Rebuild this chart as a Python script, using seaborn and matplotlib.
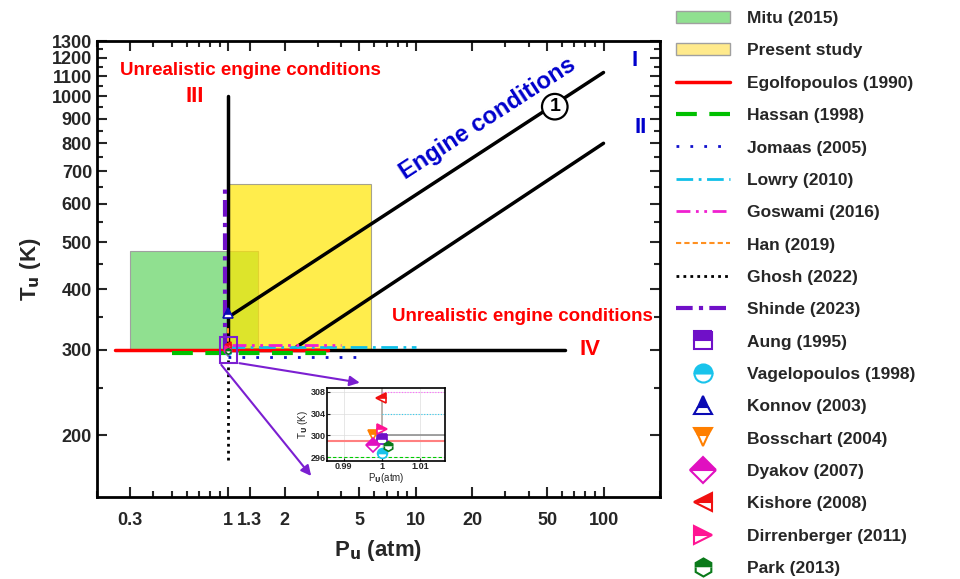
import matplotlib
matplotlib.use("Agg")
import matplotlib.pyplot as plt
import numpy as np
import seaborn as sns
from matplotlib.lines import Line2D
from matplotlib.patches import Patch, Rectangle
from matplotlib.ticker import FixedLocator, LogLocator, NullFormatter

sns.set_theme(style="ticks")
plt.rcParams["font.family"] = ["Liberation Sans", "DejaVu Sans"]
plt.rcParams["font.weight"] = "bold"
plt.rcParams["mathtext.default"] = "bf"

# shaded ranges (P in atm, T in K)
mitu_p = [0.3, 1.45]
mitu_t = [300, 480]
present_p = [1.0, 5.8]
present_t = [300, 660]

# regime boundary lines
line1_p = [1.0, 100.0]
line1_t = [350, 1120]
line2_p = [2.2, 100.0]
line2_t = [300, 800]
line3_p = [1.0, 1.0]
line3_t = [300, 1000]
line4_p = [1.0, 62.0]
line4_t = [300, 300]

# literature ranges drawn as lines
egolf_p, egolf_t = [0.25, 3.4], [299, 299]
hassan_p, hassan_t = [0.5, 3.4], [296, 296]
jomaas_p, jomaas_t = [1.0, 5.0], [290, 290]
lowry_p, lowry_t = [1.0, 10.0], [303.5, 303.5]
goswami_p, goswami_t = [1.05, 4.0], [307.5, 307.5]
han_p, han_t = [0.995, 0.995], [300, 335]
ghosh_p, ghosh_t = [1.0, 1.0], [178, 300]
shinde_p, shinde_t = [0.96, 0.96], [300, 660]

# single-condition studies
pt_names = ["Aung (1995)", "Vagelopoulos (1998)", "Konnov (2003)", "Bosschart (2004)",
            "Dyakov (2007)", "Kishore (2008)", "Dirrenberger (2011)", "Park (2013)"]
pt_p = [1.0, 1.0, 1.0, 0.9977, 0.9976, 0.9997, 1.0, 1.0016]
pt_t = [299.3, 296.7, 358, 300.1, 298.2, 306.9, 301.2, 298.1]
pt_marker = ["s", "o", "^", "v", "D", "<", ">", "h"]
pt_color = ["#7010C8", "#19C3EB", "#0A0AB4", "#FF7F00", "#E010C0", "#F01010", "#FF1493", "#0A7A1A"]

x_ticks = [0.3, 1, 1.3, 2, 5, 10, 20, 50, 100]
x_ticklabels = ["0.3", "1", "1.3", "2", "5", "10", "20", "50", "100"]
y_ticks = [200, 300, 400, 500, 600, 700, 800, 900, 1000, 1100, 1200, 1300]

PURPLE = "#7B1FD1"
BLUE = "#0000CC"

line_specs = [
    ("Egolfopoulos (1990)", egolf_p, egolf_t, "#FF0000", 2.5, "-"),
    ("Hassan (1998)", hassan_p, hassan_t, "#00C000", 3.0, (0, (5, 3))),
    ("Jomaas (2005)", jomaas_p, jomaas_t, "#1010CC", 2.0, (0, (1, 4))),
    ("Lowry (2010)", lowry_p, lowry_t, "#10C0E8", 2.0, (0, (6, 2, 1, 2))),
    ("Goswami (2016)", goswami_p, goswami_t, "#F020D0", 2.0, (0, (5, 2, 1, 2, 1, 2))),
    ("Han (2019)", han_p, han_t, "#FF9020", 1.5, (0, (2.5, 1.5))),
    ("Ghosh (2022)", ghosh_p, ghosh_t, "black", 2.0, (0, (1, 1.5))),
    ("Shinde (2023)", shinde_p, shinde_t, "#7010C8", 3.0, (0, (4, 1.5, 1, 1.5))),
]

fig = plt.figure(figsize=(9.6, 5.79), dpi=100)
ax = fig.add_axes([0.101, 0.1416, 0.5865, 0.7874])
ax.set_xscale("log")
ax.set_yscale("log")
ax.set_xlim(0.2, 200)
ax.set_ylim(149, 1300)

ax.add_patch(Rectangle((mitu_p[0], mitu_t[0]), mitu_p[1] - mitu_p[0], mitu_t[1] - mitu_t[0],
                       facecolor="#90E090", edgecolor="#a0a0a0", lw=0.8, zorder=1))
ax.add_patch(Rectangle((present_p[0], present_t[0]), present_p[1] - present_p[0],
                       present_t[1] - present_t[0], facecolor="#FFE600", alpha=0.7,
                       edgecolor="#808080", lw=0.8, zorder=1.5))

for px, ty in [(line1_p, line1_t), (line2_p, line2_t), (line3_p, line3_t), (line4_p, line4_t)]:
    sns.lineplot(x=px, y=ty, ax=ax, color="black", lw=2.5, estimator=None, sort=False,
                 legend=False, zorder=2)

for name, px, ty, col, lw, ls in line_specs:
    sns.lineplot(x=px, y=ty, ax=ax, color=col, lw=lw, linestyle=ls, estimator=None,
                 sort=False, legend=False, zorder=3)

for name, p, t, m, c in zip(pt_names, pt_p, pt_t, pt_marker, pt_color):
    ax.plot([p], [t], marker=m, color=c, fillstyle="top", markerfacecoloralt="white",
            markeredgecolor=c, markersize=7 if name.startswith("Konnov") else 4,
            markeredgewidth=1.2, linestyle="none", zorder=5)

# zoom box and arrows
ax.add_patch(Rectangle((0.9, 282), 0.21, 37, fill=False, edgecolor=PURPLE, lw=1.5, zorder=6))
for start, end in [((1.11, 282), (5.2, 256)), ((0.9, 282), (2.83, 163))]:
    ax.annotate("", xy=end, xytext=start, annotation_clip=False,
                arrowprops=dict(arrowstyle="-|>", color=PURPLE, lw=1.5, mutation_scale=15))

ax.text(1.31, 1128, "Unrealistic engine conditions", color="red", fontsize=13.5,
        fontweight="bold", ha="center", va="center")
ax.text(0.666, 1000, "III", color="red", fontsize=16, fontweight="bold", ha="center", va="center")
ax.text(37, 351, "Unrealistic engine conditions", color="red", fontsize=13.5,
        fontweight="bold", ha="center", va="center")
ax.text(85, 300, "IV", color="red", fontsize=16, fontweight="bold", ha="center", va="center")
ax.text(147, 1185, "I", color=BLUE, fontsize=16, fontweight="bold", ha="center", va="center")
ax.text(157, 864, "II", color=BLUE, fontsize=16, fontweight="bold", ha="center", va="center")
ax.text(55, 952, "1", color="black", fontsize=14, fontweight="bold", ha="center", va="center",
        bbox=dict(boxstyle="circle,pad=0.22", fc="white", ec="black", lw=1.6))
ax.text(24, 900, "Engine conditions", color=BLUE, fontsize=17, fontweight="bold",
        ha="center", va="center", rotation=33)

ax.xaxis.set_major_locator(FixedLocator(x_ticks))
ax.set_xticklabels(x_ticklabels)
ax.xaxis.set_minor_locator(LogLocator(base=10, subs=np.arange(2, 10)))
ax.xaxis.set_minor_formatter(NullFormatter())
ax.yaxis.set_major_locator(FixedLocator(y_ticks))
ax.set_yticklabels([str(v) for v in y_ticks])
ax.yaxis.set_minor_locator(FixedLocator([v + 50 for v in y_ticks[:-1]]))
ax.yaxis.set_minor_formatter(NullFormatter())
ax.tick_params(which="both", direction="in", top=True, right=True, width=1.5, labelsize=13)
ax.tick_params(which="major", length=7)
ax.tick_params(which="minor", length=4)
ax.tick_params(axis="x", pad=11)
for sp in ax.spines.values():
    sp.set_linewidth(2)
    sp.set_color("black")
ax.set_xlabel("P$_u$ (atm)", fontsize=16, fontweight="bold", labelpad=6)
ax.set_ylabel("T$_u$ (K)", fontsize=16, fontweight="bold", labelpad=6)

# inset
axi = fig.add_axes([0.3406, 0.2038, 0.1229, 0.1261])
axi.grid(True, color="#dddddd", lw=0.5)
axi.axhline(299, color="#FF8080", lw=1.5)
axi.axhline(296, color="#00CC00", lw=0.8, linestyle=(0, (3, 2)))
sns.lineplot(x=[1.0, 1.0], y=[300, 309], ax=axi, color="#b0a8a0", lw=1.2, estimator=None,
             sort=False, legend=False)
sns.lineplot(x=[1.0, 1.02], y=[300, 300], ax=axi, color="#909090", lw=1.2, estimator=None,
             sort=False, legend=False)
sns.lineplot(x=[1.0, 1.02], y=[304, 304], ax=axi, color="#33CCEE", lw=0.8,
             linestyle=(0, (1, 1.5)), estimator=None, sort=False, legend=False)
sns.lineplot(x=[1.0, 1.02], y=[308, 308], ax=axi, color="#FF66FF", lw=0.8,
             linestyle=(0, (1, 1.5)), estimator=None, sort=False, legend=False)
for name, p, t, m, c in zip(pt_names, pt_p, pt_t, pt_marker, pt_color):
    axi.plot([p], [t], marker=m, color=c, fillstyle="top", markerfacecoloralt="white",
             markeredgecolor=c, markersize=7, markeredgewidth=1.2, linestyle="none", zorder=5)
axi.set_xlim(0.9856, 1.0165)
axi.set_ylim(295.3, 308.7)
axi.set_xticks([0.99, 1.0, 1.01])
axi.set_xticklabels(["0.99", "1", "1.01"])
axi.set_yticks([296, 300, 304, 308])
axi.tick_params(direction="in", labelsize=6.5, pad=1, length=2, width=0.8)
for sp in axi.spines.values():
    sp.set_linewidth(1.2)
    sp.set_color("black")
axi.set_xlabel("P$_U$(atm)", fontsize=7, labelpad=0)
axi.set_ylabel("T$_U$ (K)", fontsize=7, labelpad=0)

# legend
handles = [
    Patch(facecolor="#90E090", edgecolor="#a0a0a0", label="Mitu (2015)"),
    Patch(facecolor="#FFEA8C", edgecolor="#a0a0a0", label="Present study"),
]
for name, px, ty, col, lw, ls in line_specs:
    handles.append(Line2D([], [], color=col, lw=lw, linestyle=ls, label=name))
for name, m, c in zip(pt_names, pt_marker, pt_color):
    handles.append(Line2D([], [], marker=m, color=c, fillstyle="top", markerfacecoloralt="white",
                          markeredgecolor=c, markersize=13, markeredgewidth=1.5,
                          linestyle="none", label=name))
leg = fig.legend(handles=handles, loc="upper left", bbox_to_anchor=(0.699, 0.99),
                 frameon=False, fontsize=12.5, labelspacing=0.99, handlelength=3.1,
                 handletextpad=1.0, borderaxespad=0, borderpad=0.3)
for txt in leg.get_texts():
    txt.set_fontweight("bold")

fig.savefig("out.png", dpi=100)
